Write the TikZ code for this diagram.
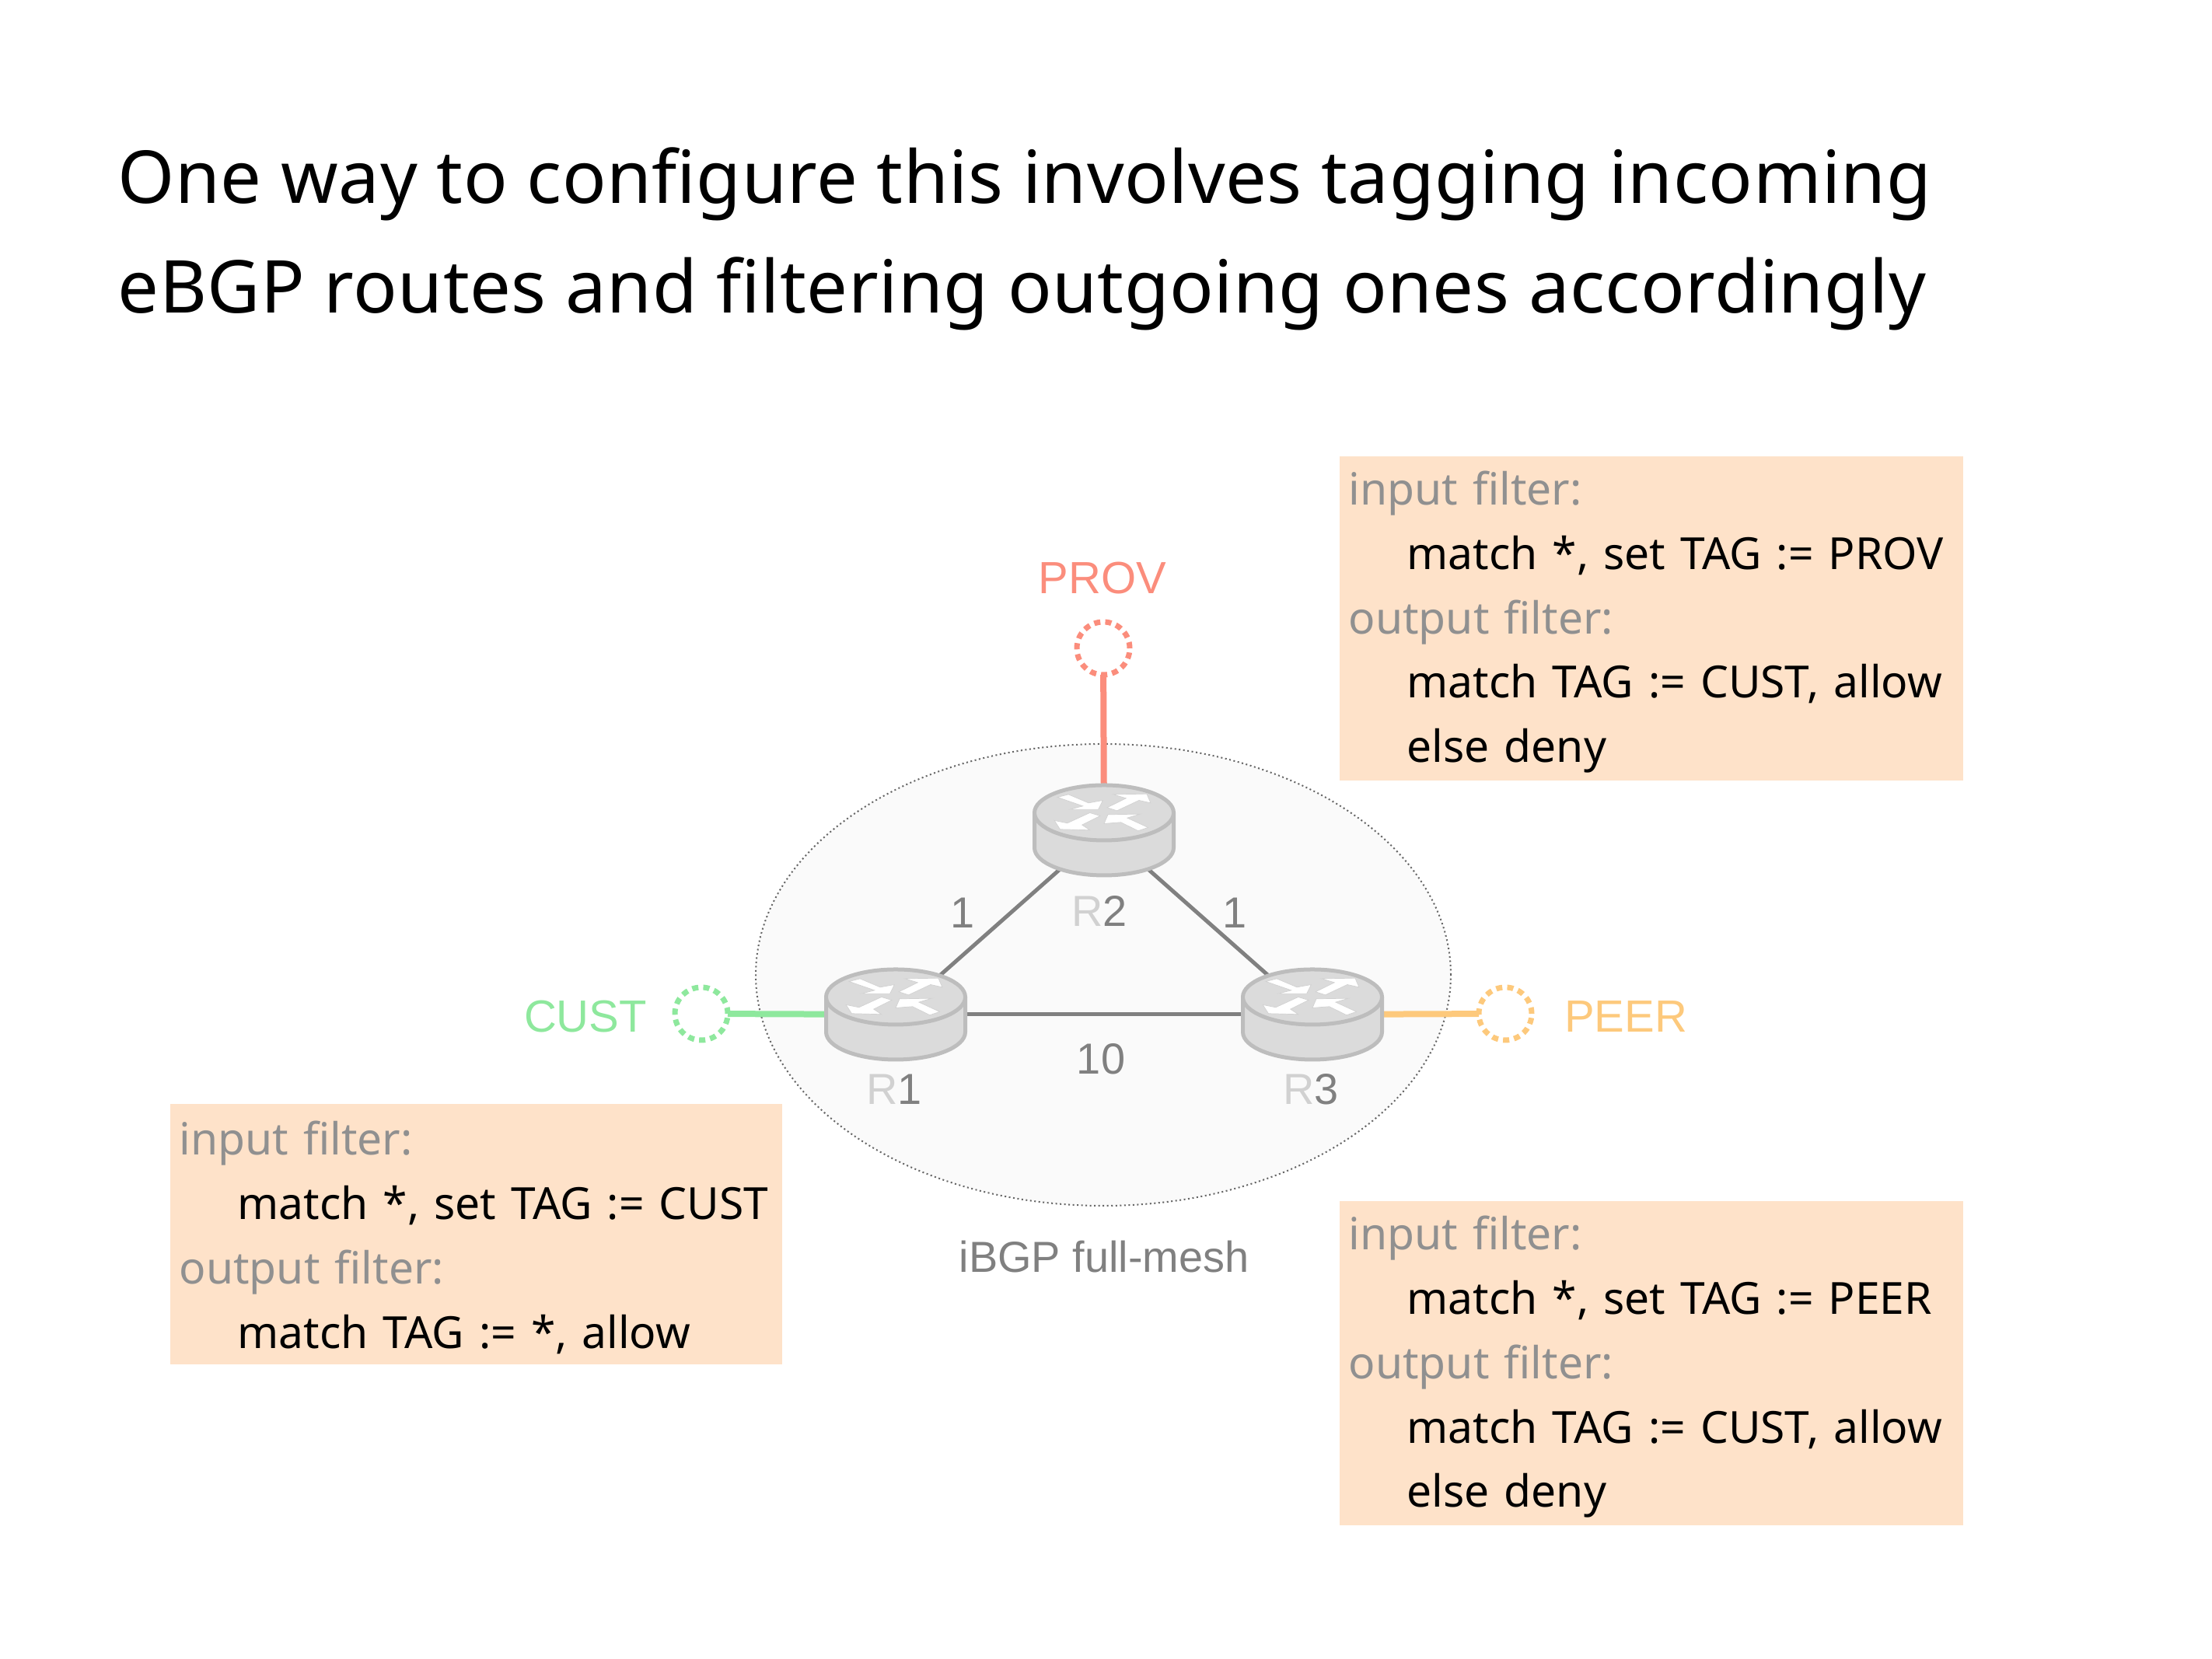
\documentclass[tikz,border=0pt]{standalone}
\usepackage{fontspec}
\setmainfont{Noto Sans}
\newfontfamily\helv{Liberation Sans}
\newfontfamily\titlefont[LetterSpace=0.5]{Noto Sans}
\usepackage{xcolor}
\usetikzlibrary{arrows.meta, calc}

\definecolor{provred}{HTML}{FB8D7C}
\definecolor{custgreen}{HTML}{8EE89D}
\definecolor{peerorange}{HTML}{FDC97C}
\definecolor{boxpeach}{HTML}{FEE2C9}
\definecolor{linegray}{HTML}{808080}
\definecolor{headgray}{HTML}{909090}

\newcommand{\head}[1]{\textcolor{headgray}{#1}}
\newcommand{\ind}{\hspace*{0.75cm}}
\newcommand{\rname}[2]{\textcolor{black!18}{R}#2}

\tikzset{
  spot/.style={inner sep=0pt, minimum size=1mm},
  extpeer/.style={circle, inner sep=0pt, outer sep=0pt, minimum size=0.68cm,
    line width=0.07cm, dash pattern=on 0.08cm off 0.063cm},
  extlink/.style={line width=0.08cm},
  iglink/.style={linegray, line width=0.05cm},
  biglabel/.style={font=\helv\fontsize{16.5}{20}\selectfont},
  smalllabel/.style={font=\helv\fontsize{15.9}{20}\selectfont, text=linegray},
  filterbox/.style={fill=boxpeach, anchor=north west, align=left, inner xsep=0.12cm,
    inner ysep=0pt, minimum height=#1, text width=7.78cm,
    execute at begin node=\rule{0pt}{15.2pt},
    font=\fontsize{16.2}{23.6}\selectfont},
  routerarrow/.style={fill=white, draw=black!18, line width=0.007cm, line join=miter},
  router/.pic={
    \draw[fill=black!14, draw=black!26, line width=0.05cm]
      (-0.895,0.225) -- (-0.895,-0.225) arc[start angle=180, end angle=360, x radius=0.895, y radius=0.355]
      -- (0.895,0.225);
    \draw[fill=black!14, draw=black!26, line width=0.05cm]
      (0,0.225) ellipse[x radius=0.895, y radius=0.355];
    \begin{scope}[shift={(0,0.225)}, x=0.00333cm, y=-0.00333cm]
      \draw[routerarrow] (-180,-60)--(-138,-71)--(-60,-38)--(-5,-48)--(-22,-13)--(-132,-13)--(-82,-26)--cycle;
      \draw[routerarrow] (12,-20)--(85,-56)--(35,-71)--(165,-73)--(180,-38)--(135,-48)--(50,-8)--cycle;
      \draw[routerarrow] (-15,12)--(-85,47)--(-55,67)--(-170,64)--(-192,30)--(-142,40)--(-55,0)--cycle;
      \draw[routerarrow] (170,57)--(132,70)--(65,37)--(0,42)--(15,7)--(140,5)--(90,20)--cycle;
    \end{scope}
  }
}

\begin{document}
\begin{tikzpicture}
\useasboundingbox (0,0) rectangle (28.45,21.34);

%-- heading
\node[anchor=base west, inner sep=0pt, font=\titlefont\fontsize{26.7}{40}\selectfont] (titleA) at (1.51,18.72)
  {One way to configure this involves tagging incoming};
\node[anchor=base west, inner sep=0pt, font=\titlefont\fontsize{26.7}{40}\selectfont] (titleB) at (1.51,17.31)
  {eBGP routes and filtering outgoing ones accordingly};

%-- iBGP cloud
\draw[fill=black!2, draw=black!60, line width=0.02cm, densely dotted]
  (14.19,8.80) ellipse[x radius=4.47, y radius=2.97];

\node[spot] (r1) at (11.52, 8.29) {};
\node[spot] (r2) at (14.20,10.66) {};
\node[spot] (r3) at (16.88, 8.29) {};

\node[extpeer, draw=provred]    (prov) at (14.19,13.00) {};
\node[extpeer, draw=custgreen]  (cust) at ( 9.02, 8.30) {};
\node[extpeer, draw=peerorange] (peer) at (19.36, 8.30) {};

%-- links
\draw[extlink, provred]    (prov) -- (r2);
\draw[extlink, custgreen]  (cust) -- (r1);
\draw[extlink, peerorange] (peer) -- (r3);
\draw[iglink] (r1) -- (r2);
\draw[iglink] (r2) -- (r3);
\draw[iglink] (r1) -- (r3);

\foreach \p in {r1,r2,r3}
  \pic at (\p) {router};

%-- labels
\node[biglabel, text=provred]    (provname) at (14.18,13.90) {PROV};
\node[biglabel, text=custgreen]  (custname) at ( 7.53, 8.26) {CUST};
\node[biglabel, text=peerorange] (peername) at (20.91, 8.26) {PEER};

\node[smalllabel] (w12) at (12.38, 9.60) {1};
\node[smalllabel] (w23) at (15.88, 9.60) {1};
\node[smalllabel] (w13) at (14.16, 7.72) {10};
\node[smalllabel] (n2)  at (14.14, 9.62) {\rname{R}{2}};
\node[smalllabel] (n1)  at (11.50, 7.33) {\rname{R}{1}};
\node[smalllabel] (n3)  at (16.86, 7.33) {\rname{R}{3}};
\node[smalllabel] (mesh) at (14.20, 5.17) {iBGP full-mesh};

%-- filter boxes
\node[filterbox=4.17cm] (provbox) at (17.22,15.48) {
  \head{input filter:}\\
  \ind match *, set TAG := PROV\\
  \head{output filter:}\\
  \ind match TAG := CUST, allow\\
  \ind else deny};
\node[filterbox=3.35cm, text width=7.63cm] (custbox) at (2.18,7.15) {
  \head{input filter:}\\
  \ind match *, set TAG := CUST\\
  \head{output filter:}\\
  \ind match TAG := *, allow};
\node[filterbox=4.17cm] (peerbox) at (17.22,5.90) {
  \head{input filter:}\\
  \ind match *, set TAG := PEER\\
  \head{output filter:}\\
  \ind match TAG := CUST, allow\\
  \ind else deny};

\end{tikzpicture}
\end{document}
